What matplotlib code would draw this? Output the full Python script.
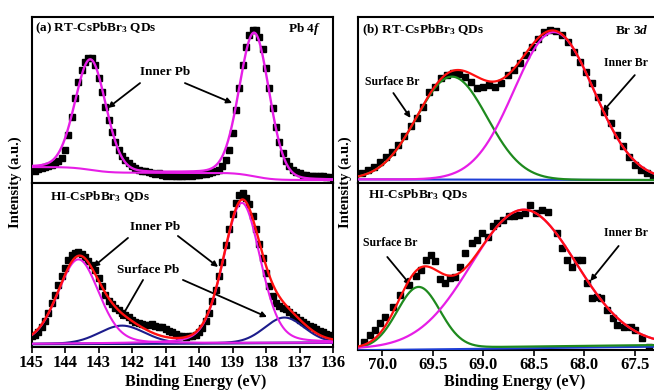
import numpy as np
import matplotlib.pyplot as plt

plt.rcParams['font.family'] = 'Liberation Serif'
plt.rcParams['font.weight'] = 'bold'
plt.rcParams['mathtext.fontset'] = 'custom'
plt.rcParams['mathtext.rm'] = 'Liberation Serif:bold'
plt.rcParams['mathtext.it'] = 'Liberation Serif:italic:bold'
plt.rcParams['mathtext.bf'] = 'Liberation Serif:bold'

# ---- Pb 4f data (145.0 -> 136.0 eV, 0.1 eV steps) ----
pb_energy = np.linspace(145.0, 136.0, 91)
rt_pb = [8, 7.5, 8.5, 9, 9.5, 10.5, 11, 12, 13, 15,
         20, 29, 40, 51, 61, 68, 73, 75, 75, 71,
         63, 55, 46, 38, 31, 25, 20, 16.5, 14, 12,
         10.5, 9, 8, 7.5, 7, 6.5, 6, 5.5, 6, 5,
         4.5, 5, 4.5, 4, 4.5, 4, 4.5, 5, 4.5, 5,
         5, 5.5, 5.5, 6, 6.5, 7, 8, 10, 14, 20,
         30, 44, 57, 71, 82, 89, 92, 92, 88, 81,
         69, 57, 45, 34, 25, 18, 13, 10, 8, 6.5,
         6, 5, 5, 4.5, 4.5, 4.5, 4, 4, 3.5, 3.5,
         3]
hi_pb = [6.5, 7.5, 9, 12, 16, 21, 27, 32, 38, 43,
         48, 53, 56, 57.5, 58, 57, 55, 52.5, 50, 47,
         42, 37, 32, 28, 26, 24, 22.5, 21, 19.5, 18,
         16.5, 15, 14.5, 14, 13.5, 13.5, 14, 13, 12.5, 12,
         11, 10, 9, 8, 7, 6.5, 6, 6.5, 7, 7.5,
         9, 11.5, 16, 21, 28, 35, 43, 52, 62, 72,
         81, 88, 92.5, 94, 91, 87, 80, 72, 63, 54,
         45, 37, 31, 27, 25, 24, 23, 21.5, 19.5, 18,
         16.5, 15, 14, 13, 12, 11, 10, 9, 8, 7.5,
         7]

# fit components: (centre eV, height, fwhm)
rt_pb_inner = [(143.24, 66.5, 1.08), (138.35, 86.5, 1.05)]
rt_pb_bg_ends = (9.6, 1.8)            # shirley background, high-BE / low-BE side
hi_pb_inner = [(143.6, 51.5, 1.45), (138.72, 85.5, 1.3)]
hi_pb_surface = [(142.3, 11.0, 1.6), (137.45, 15.5, 1.4)]
hi_pb_base = (1.8, 2.6)

# ---- Br 3d data ----
rt_br_energy = np.linspace(70.20, 67.32, 49)
rt_br = [6.2, 7.8, 9.8, 12.9, 15.9, 18.9, 22.9, 28.5, 34.5, 39,
         46, 55, 58, 63, 65, 66.5, 65.7, 63.7, 61, 57.5,
         57.6, 59, 57.6, 60, 65, 68, 72, 77, 82, 87,
         91, 92, 91.8, 89, 85, 79, 73, 67, 60, 52,
         43, 36, 29, 22, 15.9, 10.8, 7.8, 5.8, 4.2]
hi_br_energy = [70.18, 70.12, 70.07, 70.02, 69.97, 69.89, 69.82, 69.74, 69.67, 69.62,
                69.57, 69.52, 69.48, 69.43, 69.38, 69.33, 69.28, 69.23, 69.18, 69.11,
                69.06, 69.01, 68.95, 68.90, 68.86, 68.80, 68.75, 68.70, 68.65, 68.59,
                68.54, 68.48, 68.42, 68.36, 68.27, 68.22, 68.17, 68.12, 68.07, 68.02,
                67.97, 67.92, 67.87, 67.83, 67.78, 67.72, 67.68, 67.61, 67.54, 67.50,
                67.43, 67.36]
hi_br = [5.0, 9.0, 12, 16, 20, 25.9, 32.9, 38.9, 44.5, 48,
         54, 57, 53, 42.5, 40.3, 43, 43.5, 49.9, 57.9, 63.9,
         66, 69.9, 67.9, 74, 75.8, 78, 80, 80, 80.8, 81.8,
         86.8, 81.8, 83.8, 82.8, 69.9, 60.9, 53.9, 49.9, 53.9, 53.9,
         39.9, 30.9, 31.9, 30.9, 24, 19, 15, 14, 14, 12,
         7, 2]

rt_br_surface = (69.31, 62.0, 0.82)
rt_br_inner = (68.30, 89.0, 0.93)
rt_br_base = (2.2, 1.8)
hi_br_surface = (69.64, 36.5, 0.50)
hi_br_inner = (68.60, 82.0, 1.22)
hi_br_base = (0.8, 3.0)

pb_ticks = [145, 144, 143, 142, 141, 140, 139, 138, 137, 136]
br_ticks = [70.0, 69.5, 69.0, 68.5, 68.0, 67.5]

magenta = '#e61ee6'
red = '#ff1010'
green = '#1e8a1e'
navy = '#1c1c8c'
blue = '#1f3fd6'


def peak(e, centre, height, fwhm, eta=0.15):
    d = (e - centre) / fwhm
    return height * (eta / (1 + 4 * d ** 2) + (1 - eta) * np.exp(-4 * np.log(2) * d ** 2))


def line_base(e, ends):
    # linear baseline between the two ends of the energy window
    return ends[0] + (ends[1] - ends[0]) * (e[0] - e) / (e[0] - e[-1])


fig = plt.figure(figsize=(6.54, 3.9), dpi=100)
W, H = 654.0, 390.0
ax1 = fig.add_axes([31.5 / W, 1 - 183 / H, 301.5 / W, 166 / H])
ax2 = fig.add_axes([31.5 / W, 1 - 347 / H, 301.5 / W, 164 / H])
ax3 = fig.add_axes([358 / W, 1 - 183 / H, 298 / W, 166 / H])
ax4 = fig.add_axes([358 / W, 1 - 350 / H, 298 / W, 167 / H])

# ---- (a) RT Pb 4f ----
e_pb = np.linspace(145.0, 136.0, 901)
p_sum = sum(peak(e_pb, *p, eta=0.1) for p in rt_pb_inner)
s = np.cumsum(p_sum[::-1])[::-1]
shirley = rt_pb_bg_ends[1] + (rt_pb_bg_ends[0] - rt_pb_bg_ends[1]) * s / s[0]
ax1.plot(pb_energy, rt_pb, 's', color='k', ms=4, zorder=2)
ax1.plot(e_pb, shirley, color=magenta, lw=1.5, zorder=3)
ax1.plot(e_pb, shirley + p_sum, color=magenta, lw=1.7, zorder=4)

# ---- HI Pb 4f ----
base = line_base(e_pb, hi_pb_base)
inner = [peak(e_pb, *p, eta=0.2) for p in hi_pb_inner]
surf = [peak(e_pb, *p, eta=0.1) for p in hi_pb_surface]
ax2.plot(pb_energy, hi_pb, 's', color='k', ms=4, zorder=2)
ax2.plot(e_pb, base, color=navy, lw=1.8, zorder=3)
for c in surf:
    ax2.plot(e_pb, base + c, color=navy, lw=1.5, zorder=3)
for c in inner:
    ax2.plot(e_pb, base + c, color=magenta, lw=1.5, zorder=3)
ax2.plot(e_pb, base + sum(inner) + sum(surf), color=red, lw=1.7, zorder=4)

# ---- (b) RT Br 3d ----
e_br = np.linspace(70.3, 67.25, 611)
base = line_base(e_br, rt_br_base)
g = peak(e_br, *rt_br_surface, eta=0.0)
m = peak(e_br, *rt_br_inner, eta=0.0)
ax3.plot(rt_br_energy, rt_br, 's', color='k', ms=4, zorder=2)
ax3.plot(e_br, base, color=blue, lw=1.5, zorder=3)
ax3.plot(e_br, base + g, color=green, lw=1.6, zorder=3)
ax3.plot(e_br, base + m, color=magenta, lw=1.6, zorder=3)
ax3.plot(e_br, base + g + m, color=red, lw=1.6, zorder=4)

# ---- HI Br 3d ----
base = line_base(e_br, hi_br_base)
g = peak(e_br, *hi_br_surface, eta=0.0)
m = peak(e_br, *hi_br_inner, eta=0.0)
ax4.plot(hi_br_energy, hi_br, 's', color='k', ms=4, zorder=2)
ax4.plot(e_br, base - 1.0, color=blue, lw=1.5, zorder=3)
ax4.plot(e_br, base + g, color=green, lw=1.6, zorder=3)
ax4.plot(e_br, base + m, color=magenta, lw=1.6, zorder=3)
ax4.plot(e_br, base + g + m, color=red, lw=1.6, zorder=4)

for ax in (ax1, ax2):
    ax.set_xlim(145, 136)
    ax.set_xticks(pb_ticks)
for ax in (ax3, ax4):
    ax.set_xlim(70.24, 67.29)
    ax.set_xticks(br_ticks)
    ax.set_xticklabels(['%.1f' % t for t in br_ticks])
for ax in (ax1, ax2, ax3, ax4):
    ax.set_ylim(0, 100)
    ax.set_yticks([])
    for sp in ax.spines.values():
        sp.set_linewidth(1.5)
    ax.tick_params(axis='x', direction='out', length=4, width=1.2, labelsize=12, pad=2)
for ax in (ax1, ax3):
    ax.tick_params(axis='x', labelbottom=False)
ax4.tick_params(axis='x', pad=1)

# labels
fig.text(15 / W, 1 - 182 / H, 'Intensity (a.u.)', rotation=90, ha='center', va='center', fontsize=10.5)
fig.text(345 / W, 1 - 182 / H, 'Intensity (a.u.)', rotation=90, ha='center', va='center', fontsize=10.5)
fig.text(196 / W, 1 - 382 / H, 'Binding Energy (eV)', ha='center', va='center', fontsize=11.5)
fig.text(515 / W, 1 - 382 / H, 'Binding Energy (eV)', ha='center', va='center', fontsize=11.5)

ax1.text(0.012, 0.93, '(a) RT-CsPbBr$_3$ QDs', transform=ax1.transAxes, ha='left', va='center', fontsize=9.5)
ax1.text(0.96, 0.93, 'Pb 4$f$', transform=ax1.transAxes, ha='right', va='center', fontsize=9.5)
ax2.text(0.061, 0.915, 'HI-CsPbBr$_3$ QDs', transform=ax2.transAxes, ha='left', va='center', fontsize=9.5)
ax3.text(0.013, 0.92, '(b) RT-CsPbBr$_3$ QDs', transform=ax3.transAxes, ha='left', va='center', fontsize=9.5)
ax3.text(0.975, 0.92, 'Br 3$d$', transform=ax3.transAxes, ha='right', va='center', fontsize=9.5)
ax4.text(0.034, 0.928, 'HI-CsPbBr$_3$ QDs', transform=ax4.transAxes, ha='left', va='center', fontsize=9.5)

arrow = dict(arrowstyle='-|>', color='k', lw=1.3, mutation_scale=8, shrinkA=0, shrinkB=0)

ax1.text(141.01, 66.9, 'Inner Pb', ha='center', va='center', fontsize=9.5)
ax1.annotate('', xy=(142.72, 45.2), xytext=(141.76, 60.2), arrowprops=arrow)
ax1.annotate('', xy=(139.01, 48.2), xytext=(140.42, 60.2), arrowprops=arrow)

ax2.text(141.31, 73.2, 'Inner Pb', ha='center', va='center', fontsize=9.5)
ax2.annotate('', xy=(143.16, 48.8), xytext=(142.12, 66.5), arrowprops=arrow)
ax2.annotate('', xy=(139.43, 48.8), xytext=(140.63, 67.7), arrowprops=arrow)
ax2.text(141.52, 47, 'Surface Pb', ha='center', va='center', fontsize=9.5)
ax2.annotate('', xy=(142.36, 16.5), xytext=(141.67, 40.9), arrowprops=arrow)
ax2.annotate('', xy=(137.97, 18.3), xytext=(140.48, 40.9), arrowprops=arrow)

ax3.text(69.90, 60.8, 'Surface Br', ha='center', va='center', fontsize=8.5)
ax3.annotate('', xy=(69.72, 39.2), xytext=(69.89, 54.2), arrowprops=arrow)
ax3.text(67.59, 72.3, 'Inner Br', ha='center', va='center', fontsize=8.5)
ax3.annotate('', xy=(67.82, 42.8), xytext=(67.50, 65.0), arrowprops=arrow)

ax4.text(69.92, 64.3, 'Surface Br', ha='center', va='center', fontsize=8.5)
ax4.annotate('', xy=(69.72, 38.9), xytext=(69.95, 55.7), arrowprops=arrow)
ax4.text(67.59, 69.9, 'Inner Br', ha='center', va='center', fontsize=8.5)
ax4.annotate('', xy=(67.94, 41.3), xytext=(67.66, 62.3), arrowprops=arrow)

fig.savefig('out.png', dpi=100)
